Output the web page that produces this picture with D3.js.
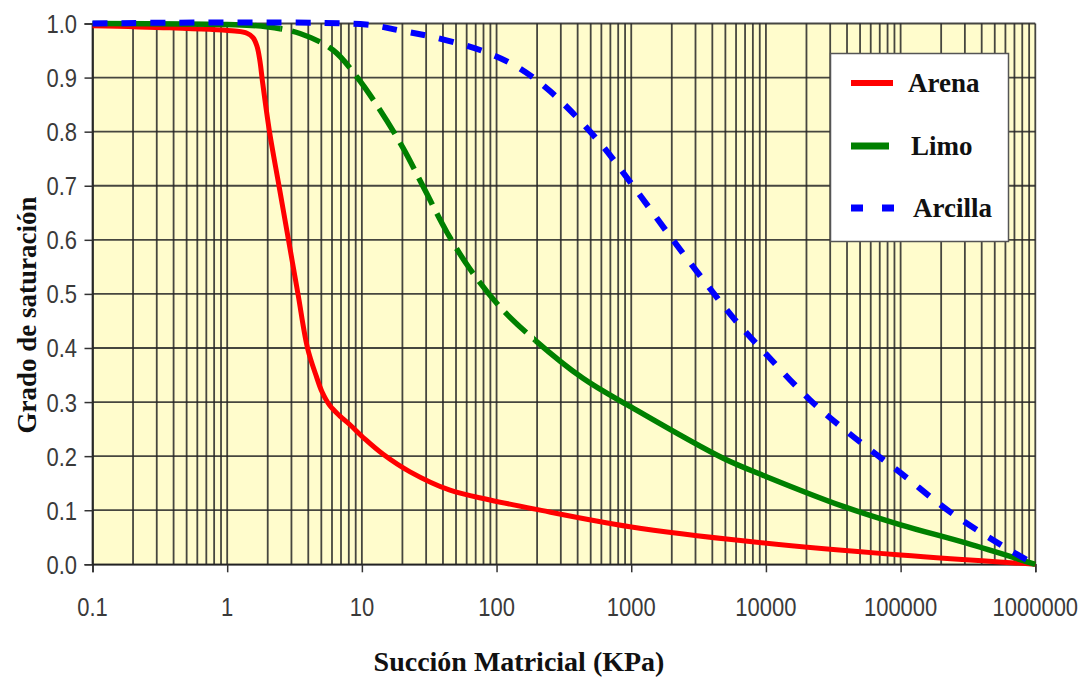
<!DOCTYPE html>
<html>
<head>
<meta charset="utf-8">
<script src="https://cdn.jsdelivr.net/npm/d3@7"></script>
<style>
  body { margin: 0; background: #fff; }
  svg { display: block; }
</style>
</head>
<body>
<svg id="chart" width="1092" height="680"></svg>
<script>
// curve readings (suction in kPa, degree of saturation)
var arenaSuccion = [0.1, 0.376, 1.143, 1.403, 1.555, 1.665, 1.752, 1.828, 2.061, 2.424, 2.852, 3.354, 3.947, 4.6, 5.057, 5.8, 6.88, 8.16, 10.5, 14.3, 22.8, 45.1, 89.4, 193, 978, 7606, 100000, 1000000]
var arenaSat = [0.996, 0.992, 0.986, 0.982, 0.974, 0.958, 0.93, 0.893, 0.8, 0.7, 0.6, 0.5, 0.4, 0.347, 0.319, 0.293, 0.274, 0.258, 0.232, 0.204, 0.171, 0.137, 0.119, 0.102, 0.0695, 0.042, 0.017, 0]

var limoSuccion = [0.1, 1, 1.965, 3.47, 6.1, 9.19, 13.63, 20.2, 29.4, 42.8, 63.5, 106, 186, 438, 978, 4820, 10100, 37500, 100000, 309000, 1000000]
var limoSat = [1.0, 0.998, 0.994, 0.9815, 0.951, 0.901, 0.84, 0.77, 0.692, 0.614, 0.546, 0.476, 0.418, 0.344, 0.292, 0.196, 0.162, 0.107, 0.073, 0.039, 0]

var arcillaSuccion = [0.1, 10.7, 19.2, 33.7, 79.3, 141.7, 249, 556, 1029, 1939, 3525, 5888, 10170, 21210, 42040, 100000, 232300, 647700, 1000000]
var arcillaSat = [1.0, 0.998, 0.987, 0.975, 0.949, 0.92, 0.875, 0.786, 0.7, 0.607, 0.522, 0.452, 0.387, 0.304, 0.241, 0.169, 0.097, 0.026, 0]

var xTicks = [0.1, 1, 10, 100, 1000, 10000, 100000, 1000000]
var xTickLabels = ["0.1", "1", "10", "100", "1000", "10000", "100000", "1000000"]
var yTicks = [0, 0.1, 0.2, 0.3, 0.4, 0.5, 0.6, 0.7, 0.8, 0.9, 1.0]

var seriesNames = ["Arena", "Limo", "Arcilla"]
var seriesColors = ["#ff0000", "#008000", "#0000ff"]

var svg = d3.select("#chart")

var x = d3.scaleLog().domain([0.1, 1000000]).range([92.5, 1035.3])
var y = d3.scaleLinear().domain([0, 1]).range([564.3, 23.5])

// plot background
svg.append("rect")
  .attr("x", x(0.1))
  .attr("y", y(1))
  .attr("width", x(1000000) - x(0.1))
  .attr("height", y(0) - y(1))
  .attr("fill", "#fffccc")

// grid: every 1..9 of each decade, every 0.1 of saturation
var minorX = []
for (var p = -1; p < 6; p++) {
  for (var k = 1; k < 10; k++) minorX.push(k * Math.pow(10, p))
}
minorX.push(1000000)

var gridG = svg.append("g")
gridG.selectAll("line.v")
  .data(minorX)
  .enter()
  .append("line")
  .attr("class", "v")
  .attr("x1", d => x(d)).attr("x2", d => x(d))
  .attr("y1", y(1)).attr("y2", y(0))
  .attr("stroke", "#262626")
  .attr("stroke-opacity", 0.85)
  .attr("stroke-width", 1.8)

gridG.selectAll("line.h")
  .data(yTicks)
  .enter()
  .append("line")
  .attr("class", "h")
  .attr("x1", x(0.1)).attr("x2", x(1000000))
  .attr("y1", d => y(d)).attr("y2", d => y(d))
  .attr("stroke", "#262626")
  .attr("stroke-opacity", 0.85)
  .attr("stroke-width", 1.8)

// axes
var xAxis = d3.axisBottom(x).tickValues(xTicks).tickSize(8).tickFormat("")
var yAxis = d3.axisLeft(y).tickValues(yTicks).tickSize(8).tickFormat("")

svg.append("g")
  .attr("transform", `translate(0,${y(0)})`)
  .call(xAxis)
  .call(g => g.select(".domain").attr("stroke", "#222").attr("stroke-width", 1.6))
  .call(g => g.selectAll(".tick line").attr("stroke", "#333").attr("stroke-width", 1.5))

svg.append("g")
  .attr("transform", `translate(${x(0.1)},0)`)
  .call(yAxis)
  .call(g => g.select(".domain").attr("stroke", "#222").attr("stroke-width", 1.6))
  .call(g => g.selectAll(".tick line").attr("stroke", "#333").attr("stroke-width", 1.5))

// tick labels (slightly tall sans)
svg.append("g").selectAll("text")
  .data(xTicks)
  .enter()
  .append("text")
  .attr("transform", d => `translate(${x(d)},616) scale(1,1.2)`)
  .attr("text-anchor", "middle")
  .attr("font-family", "'Liberation Sans', Arial, sans-serif")
  .attr("font-size", 22)
  .attr("fill", "#3a3a3a")
  .text((d, i) => xTickLabels[i])

svg.append("g").selectAll("text")
  .data(yTicks)
  .enter()
  .append("text")
  .attr("transform", d => `translate(77,${y(d)}) scale(1,1.2)`)
  .attr("dy", "0.36em")
  .attr("text-anchor", "end")
  .attr("font-family", "'Liberation Sans', Arial, sans-serif")
  .attr("font-size", 22)
  .attr("fill", "#3a3a3a")
  .text(d => d3.format(".1f")(d))

// axis titles
svg.append("text")
  .attr("transform", "translate(36,315) rotate(-90)")
  .attr("text-anchor", "middle")
  .attr("font-family", "'Liberation Serif', 'Times New Roman', serif")
  .attr("font-weight", "bold")
  .attr("font-size", 27)
  .attr("fill", "#111")
  .text("Grado de saturación")

svg.append("text")
  .attr("x", 519)
  .attr("y", 671)
  .attr("text-anchor", "middle")
  .attr("font-family", "'Liberation Serif', 'Times New Roman', serif")
  .attr("font-weight", "bold")
  .attr("font-size", 28)
  .attr("fill", "#111")
  .text("Succión Matricial (KPa)")

// curves
var line = d3.line()
  .x(d => x(d[0]))
  .y(d => y(d[1]))
  .curve(d3.curveCatmullRom.alpha(0.5))

var arena = d3.zip(arenaSuccion, arenaSat)
var limo = d3.zip(limoSuccion, limoSat)
var arcilla = d3.zip(arcillaSuccion, arcillaSat)

var defs = svg.append("defs")
// the silt curve is drawn dashed on its steep part and solid elsewhere
var dashFrom = 2.5, dashTo = 190
defs.append("clipPath").attr("id", "limo-dash")
  .append("rect")
  .attr("x", x(dashFrom)).attr("y", 0)
  .attr("width", x(dashTo) - x(dashFrom)).attr("height", 680)
var solidClip = defs.append("clipPath").attr("id", "limo-solid")
solidClip.append("rect")
  .attr("x", 0).attr("y", 0)
  .attr("width", x(dashFrom)).attr("height", 680)
solidClip.append("rect")
  .attr("x", x(dashTo)).attr("y", 0)
  .attr("width", 1092 - x(dashTo)).attr("height", 680)

var curvesG = svg.append("g")

curvesG.append("path")
  .datum(arena)
  .attr("d", line)
  .attr("fill", "none")
  .attr("stroke", seriesColors[0])
  .attr("stroke-width", 5)

curvesG.append("path")
  .datum(limo)
  .attr("d", line)
  .attr("fill", "none")
  .attr("stroke", seriesColors[1])
  .attr("stroke-width", 5.5)
  .attr("clip-path", "url(#limo-solid)")

curvesG.append("path")
  .datum(limo)
  .attr("d", line)
  .attr("fill", "none")
  .attr("stroke", seriesColors[1])
  .attr("stroke-width", 5.5)
  .attr("stroke-dasharray", "30,10")
  .attr("clip-path", "url(#limo-dash)")

curvesG.append("path")
  .datum(arcilla)
  .attr("d", line)
  .attr("fill", "none")
  .attr("stroke", seriesColors[2])
  .attr("stroke-width", 6)
  .attr("stroke-dasharray", "15,14")

// legend
var legend = svg.append("g")
legend.append("rect")
  .attr("x", 830.5).attr("y", 53.5)
  .attr("width", 178).attr("height", 188)
  .attr("fill", "#fff")
  .attr("stroke", "#555")
  .attr("stroke-width", 1.5)

var legendY = [83, 146, 208]
var legendTextX = [908, 911, 913]
var legendDash = [null, null, "12,19"]
var legendLen = [42, 38, 44]

legend.selectAll("line")
  .data(seriesNames)
  .enter()
  .append("line")
  .attr("x1", 851)
  .attr("x2", (d, i) => 851 + legendLen[i])
  .attr("y1", (d, i) => legendY[i])
  .attr("y2", (d, i) => legendY[i])
  .attr("stroke", (d, i) => seriesColors[i])
  .attr("stroke-width", (d, i) => i === 0 ? 6 : 7)
  .attr("stroke-dasharray", (d, i) => legendDash[i])

legend.selectAll("text")
  .data(seriesNames)
  .enter()
  .append("text")
  .attr("x", (d, i) => legendTextX[i])
  .attr("y", (d, i) => legendY[i] + 9)
  .attr("font-family", "'Liberation Serif', 'Times New Roman', serif")
  .attr("font-weight", "bold")
  .attr("font-size", 27)
  .attr("fill", "#111")
  .text(d => d)
</script>
</body>
</html>
